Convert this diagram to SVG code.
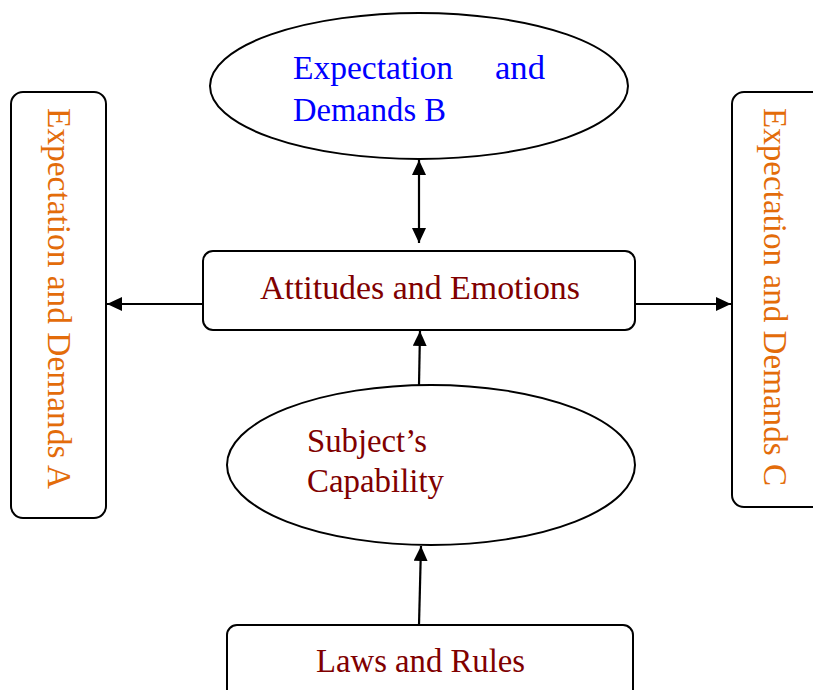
<svg xmlns="http://www.w3.org/2000/svg" width="813" height="690" viewBox="0 0 813 690">
<defs>
<marker id="ah" markerUnits="userSpaceOnUse" markerWidth="15" markerHeight="14" viewBox="0 0 15 14" refX="15" refY="7" orient="auto-start-reverse">
<path d="M0,0 L15,7 L0,14 Z" fill="#000"/>
</marker>
</defs>
<style>
.shape{fill:#fff;stroke:#000;stroke-width:2}
.t{font-family:"Liberation Serif","DejaVu Serif",serif;font-size:33px}
.red{fill:#800000}
.blue{fill:#0000ff}
.org{fill:#e36c0a}
.c{stroke:#000;stroke-width:2.2;fill:none}
</style>
<rect width="813" height="690" fill="#fff"/>
<g id="expB">
<ellipse class="shape" cx="419" cy="86" rx="209" ry="73"/>
<text class="t blue" x="293" y="79" textLength="160" lengthAdjust="spacingAndGlyphs">Expectation</text>
<text class="t blue" x="495" y="79" textLength="50" lengthAdjust="spacingAndGlyphs">and</text>
<text class="t blue" x="293" y="121" textLength="153" lengthAdjust="spacingAndGlyphs">Demands B</text>
</g>
<g id="expA">
<rect class="shape" x="11" y="92" width="95" height="426" rx="12"/>
<text class="t org" transform="translate(48,108) rotate(90)" textLength="381" lengthAdjust="spacingAndGlyphs">Expectation and Demands A</text>
</g>
<g id="expC">
<rect class="shape" x="732" y="92" width="95" height="415" rx="12"/>
<text class="t org" transform="translate(764,108) rotate(90)" textLength="378" lengthAdjust="spacingAndGlyphs">Expectation and Demands C</text>
</g>
<g id="attitudes">
<rect class="shape" x="203" y="251" width="432" height="79" rx="10"/>
<text class="t red" x="260" y="299" textLength="320" lengthAdjust="spacingAndGlyphs">Attitudes and Emotions</text>
</g>
<g id="capability">
<ellipse class="shape" cx="431" cy="465" rx="204" ry="80"/>
<text class="t red" x="307" y="452" textLength="120" lengthAdjust="spacingAndGlyphs">Subject’s</text>
<text class="t red" x="307" y="492" textLength="137" lengthAdjust="spacingAndGlyphs">Capability</text>
</g>
<g id="laws">
<rect class="shape" x="227" y="625" width="406" height="80" rx="10"/>
<text class="t red" x="316" y="672" textLength="209" lengthAdjust="spacingAndGlyphs">Laws and Rules</text>
</g>
<g id="connectors">
<line class="c" x1="419" y1="160" x2="419" y2="243" marker-start="url(#ah)" marker-end="url(#ah)"/>
<line class="c" x1="203" y1="304" x2="107" y2="304" marker-end="url(#ah)"/>
<line class="c" x1="635" y1="304" x2="731" y2="304" marker-end="url(#ah)"/>
<line class="c" x1="419" y1="385" x2="420" y2="331" marker-end="url(#ah)"/>
<line class="c" x1="419" y1="625" x2="421" y2="546" marker-end="url(#ah)"/>
</g>
</svg>
